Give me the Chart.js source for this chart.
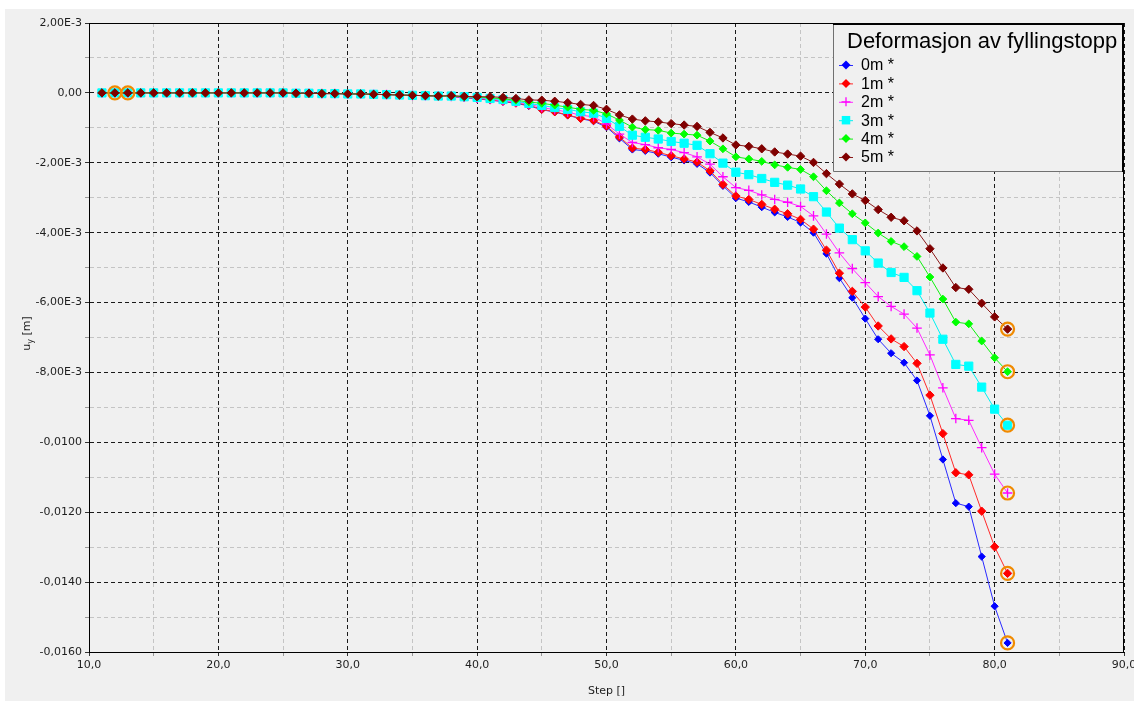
<!DOCTYPE html>
<html>
<head>
<meta charset="utf-8">
<title>Deformasjon av fyllingstopp</title>
<script src="https://cdn.jsdelivr.net/npm/chart.js@4.4.1/dist/chart.umd.min.js"></script>
<style>
  html, body { margin: 0; padding: 0; background: #ffffff; }
  #wrap { position: absolute; left: 5px; top: 9px; width: 1129px; height: 692px; background: #f0f0f0; }
  canvas { display: block; }
</style>
</head>
<body>
<div id="wrap"><canvas id="chart" width="1129" height="692"></canvas></div>
<script>
// Calculation steps (x axis)
const steps = [
  11, 12, 13, 14, 15, 16, 17, 18, 19, 20,
  21, 22, 23, 24, 25, 26, 27, 28, 29, 30,
  31, 32, 33, 34, 35, 36, 37, 38, 39, 40,
  41, 42, 43, 44, 45, 46, 47, 48, 49, 50,
  51, 52, 53, 54, 55, 56, 57, 58, 59, 60,
  61, 62, 63, 64, 65, 66, 67, 68, 69, 70,
  71, 72, 73, 74, 75, 76, 77, 78, 79, 80, 81
];

// Vertical displacement u_y [m] at each fill-top point
const u0m = [
  0, 0, 0, 0, 0, 0, 0, 0, 0, 0,
  0, 0, 0, 0, 0, -0.00001, -0.00001, -0.00002, -0.00002, -0.00003,
  -0.00003, -0.00004, -0.00005, -0.00006, -0.00007, -0.00008, -0.00009,
  -0.00011, -0.00014, -0.00017,
  -0.00021, -0.00025, -0.00030, -0.00037, -0.00048, -0.00055, -0.00064, -0.00074, -0.00081, -0.00098,
  -0.00130, -0.00162, -0.00166, -0.00174, -0.00184, -0.00193, -0.00203, -0.00228, -0.00266, -0.00301,
  -0.00312, -0.00327, -0.00342, -0.00355, -0.00371, -0.00400, -0.00460, -0.00530, -0.00586, -0.00646,
  -0.00705, -0.00745, -0.00772, -0.00823, -0.00924, -0.01049, -0.01174, -0.01184, -0.01327, -0.01469, -0.01574
];
const u1m = [
  0, 0, 0, 0, 0, 0, 0, 0, 0, 0,
  0, 0, 0, 0, 0, -0.00001, -0.00001, -0.00002, -0.00002, -0.00003,
  -0.00003, -0.00004, -0.00005, -0.00006, -0.00007, -0.00008, -0.00009,
  -0.00010, -0.00013, -0.00016,
  -0.00020, -0.00024, -0.00029, -0.00035, -0.00047, -0.00054, -0.00063, -0.00073, -0.00079, -0.00095,
  -0.00126, -0.00158, -0.00162, -0.00170, -0.00180, -0.00189, -0.00198, -0.00223, -0.00262, -0.00295,
  -0.00305, -0.00319, -0.00333, -0.00346, -0.00362, -0.00390, -0.00450, -0.00516, -0.00568, -0.00613,
  -0.00667, -0.00704, -0.00726, -0.00774, -0.00865, -0.00975, -0.01087, -0.01093, -0.01197, -0.01299, -0.01375
];
const u2m = [
  0, 0, 0, 0, 0, 0, 0, 0, 0, 0,
  0, 0, 0, 0, 0, -0.00001, -0.00001, -0.00002, -0.00002, -0.00003,
  -0.00003, -0.00004, -0.00005, -0.00006, -0.00007, -0.00008, -0.00009,
  -0.00010, -0.00012, -0.00015,
  -0.00018, -0.00022, -0.00026, -0.00032, -0.00042, -0.00048, -0.00055, -0.00064, -0.00068, -0.00089,
  -0.00118, -0.00142, -0.00148, -0.00157, -0.00162, -0.00171, -0.00183, -0.00204, -0.00240, -0.00271,
  -0.00279, -0.00292, -0.00305, -0.00313, -0.00325, -0.00352, -0.00404, -0.00458, -0.00503, -0.00543,
  -0.00583, -0.00611, -0.00633, -0.00673, -0.00750, -0.00844, -0.00932, -0.00937, -0.01015, -0.01091, -0.01145
];
const u3m = [
  0, 0, 0, 0, 0, 0, 0, 0, 0, 0,
  0, 0, 0, 0, 0, -0.00001, -0.00001, -0.00002, -0.00002, -0.00003,
  -0.00003, -0.00004, -0.00005, -0.00006, -0.00007, -0.00008, -0.00009,
  -0.00009, -0.00011, -0.00013,
  -0.00016, -0.00019, -0.00024, -0.00030, -0.00036, -0.00042, -0.00047, -0.00054, -0.00058, -0.00073,
  -0.00096, -0.00121, -0.00127, -0.00132, -0.00139, -0.00144, -0.00150, -0.00174, -0.00201, -0.00227,
  -0.00234, -0.00245, -0.00256, -0.00264, -0.00275, -0.00297, -0.00341, -0.00387, -0.00420, -0.00452,
  -0.00487, -0.00514, -0.00528, -0.00566, -0.00630, -0.00705, -0.00777, -0.00782, -0.00842, -0.00905, -0.00951
];
const u4m = [
  0, 0, 0, 0, 0, 0, 0, 0, 0, 0,
  0, 0, 0, 0, 0, -0.00001, -0.00001, -0.00002, -0.00002, -0.00003,
  -0.00003, -0.00004, -0.00005, -0.00006, -0.00007, -0.00008, -0.00009,
  -0.00009, -0.00011, -0.00012,
  -0.00014, -0.00017, -0.00021, -0.00026, -0.00030, -0.00035, -0.00041, -0.00047, -0.00050, -0.00060,
  -0.00078, -0.00098, -0.00105, -0.00107, -0.00115, -0.00118, -0.00121, -0.00138, -0.00160, -0.00183,
  -0.00189, -0.00196, -0.00206, -0.00213, -0.00219, -0.00240, -0.00280, -0.00315, -0.00346, -0.00372,
  -0.00401, -0.00425, -0.00440, -0.00468, -0.00527, -0.00590, -0.00656, -0.00661, -0.00710, -0.00758, -0.00798
];
const u5m = [
  0, 0, 0, 0, 0, 0, 0, 0, 0, 0,
  0, 0, 0, 0, 0, -0.00001, -0.00001, -0.00002, -0.00002, -0.00003,
  -0.00003, -0.00004, -0.00005, -0.00006, -0.00007, -0.00008, -0.00009,
  -0.00008, -0.00010, -0.00011,
  -0.00011, -0.00013, -0.00016, -0.00020, -0.00021, -0.00024, -0.00028, -0.00033, -0.00036, -0.00047,
  -0.00063, -0.00075, -0.00080, -0.00083, -0.00088, -0.00092, -0.00096, -0.00113, -0.00129, -0.00149,
  -0.00153, -0.00160, -0.00169, -0.00175, -0.00181, -0.00199, -0.00231, -0.00261, -0.00289, -0.00308,
  -0.00334, -0.00356, -0.00366, -0.00395, -0.00446, -0.00501, -0.00557, -0.00562, -0.00602, -0.00641, -0.00676
];

const seriesLabels = ['0m *', '1m *', '2m *', '3m *', '4m *', '5m *'];
const seriesValues = [u0m, u1m, u2m, u3m, u4m, u5m];

// Steps highlighted with a ring on the top curve
const markedSteps = [12, 13];

// Axis ticks and labels
const xMajorTicks = [10, 20, 30, 40, 50, 60, 70, 80, 90];
const xTickLabels = ['10,0', '20,0', '30,0', '40,0', '50,0', '60,0', '70,0', '80,0', '90,0'];
const xGridTicks = [10, 15, 20, 25, 30, 35, 40, 45, 50, 55, 60, 65, 70, 75, 80, 85, 90];
const yMajorTicks = [0.002, 0, -0.002, -0.004, -0.006, -0.008, -0.010, -0.012, -0.014, -0.016];
const yTickLabels = ['2,00E-3', '0,00', '-2,00E-3', '-4,00E-3', '-6,00E-3', '-8,00E-3', '-0,0100', '-0,0120', '-0,0140', '-0,0160'];
const yGridTicks = [0.002, 0.001, 0, -0.001, -0.002, -0.003, -0.004, -0.005, -0.006, -0.007, -0.008,
                    -0.009, -0.010, -0.011, -0.012, -0.013, -0.014, -0.015, -0.016];

// ---- styling ----
const styles = [
  { color: '#0000ff', point: 'rectRot', radius: 3.6, lineColor: '#2a2aff' },
  { color: '#ff0000', point: 'rectRot', radius: 4.2, lineColor: '#ff2a2a' },
  { color: '#ff00ff', point: 'cross',   radius: 4.8, lineColor: '#ff2aff' },
  { color: '#00ffff', point: 'rect',    radius: 5.8, lineColor: '#00f0f0' },
  { color: '#00ff00', point: 'rectRot', radius: 3.9, lineColor: '#10f010' },
  { color: '#800000', point: 'rectRot', radius: 4.2, lineColor: '#8a1a1a' }
];
const ringColor = '#f08a00';
const LEGEND_FONT = '"Liberation Sans", Arial, sans-serif';
const AXIS_FONT = '"DejaVu Sans", Verdana, sans-serif';
const TEXT = '#1e1e1e';

function isMajor(list, v) {
  return list.findIndex(t => Math.abs(t - v) < 1e-9);
}

const datasets = seriesValues.map((vals, i) => ({
  label: seriesLabels[i],
  data: steps.map((s, k) => ({ x: s, y: vals[k] })),
  borderColor: styles[i].lineColor,
  backgroundColor: styles[i].color,
  pointBackgroundColor: styles[i].color,
  pointBorderColor: styles[i].color,
  pointStyle: styles[i].point,
  pointRadius: styles[i].radius,
  pointBorderWidth: styles[i].point === 'cross' ? 1.3 : 1,
  borderWidth: 1,
  tension: 0,
  order: 6 - i
}));

// Rings: the highlighted start steps and the final step of every curve
const lastIdx = steps.length - 1;
const ringPoints = markedSteps.map(s => ({ x: s, y: u5m[steps.indexOf(s)] }))
  .concat(seriesValues.map(vals => ({ x: steps[lastIdx], y: vals[lastIdx] })));
datasets.push({
  label: 'selected',
  data: ringPoints,
  showLine: false,
  pointStyle: 'circle',
  pointRadius: 6.5,
  pointBorderWidth: 2.2,
  pointBorderColor: ringColor,
  pointBackgroundColor: 'rgba(0,0,0,0)',
  order: 0
});

function drawSymbol(ctx, style, x, y, r, color) {
  ctx.save();
  ctx.fillStyle = color;
  ctx.strokeStyle = color;
  ctx.lineWidth = 1.3;
  ctx.beginPath();
  if (style === 'rectRot') {
    ctx.moveTo(x, y - r); ctx.lineTo(x + r, y); ctx.lineTo(x, y + r); ctx.lineTo(x - r, y);
    ctx.closePath(); ctx.fill();
  } else if (style === 'rect') {
    const h = r * Math.SQRT1_2;
    ctx.rect(x - h, y - h, 2 * h, 2 * h); ctx.fill();
  } else if (style === 'cross') {
    ctx.moveTo(x - r, y); ctx.lineTo(x + r, y); ctx.moveTo(x, y - r); ctx.lineTo(x, y + r);
    ctx.stroke();
  }
  ctx.restore();
}

const overlay = {
  id: 'overlay',
  beforeDatasetsDraw(chart) {
    // closing frame on top and right of the plot area
    const { ctx, chartArea: a } = chart;
    ctx.save();
    ctx.strokeStyle = '#000';
    ctx.lineWidth = 1;
    ctx.beginPath();
    ctx.moveTo(Math.round(a.left) + 0.5, Math.round(a.top) + 0.5);
    ctx.lineTo(Math.round(a.right) - 0.5, Math.round(a.top) + 0.5);
    ctx.lineTo(Math.round(a.right) - 0.5, Math.round(a.bottom) + 0.5);
    ctx.stroke();
    ctx.restore();
  },
  afterDraw(chart) {
    const { ctx, chartArea: a } = chart;

    // axis titles
    ctx.save();
    ctx.fillStyle = TEXT;
    ctx.font = '11px ' + AXIS_FONT;
    ctx.textAlign = 'center';
    ctx.textBaseline = 'middle';
    ctx.fillText('Step []', (a.left + a.right) / 2, 682);
    ctx.restore();

    ctx.save();
    ctx.fillStyle = TEXT;
    ctx.translate(22, (a.top + a.bottom) / 2 - 4);
    ctx.rotate(-Math.PI / 2);
    ctx.textBaseline = 'middle';
    ctx.textAlign = 'left';
    const big = '11px ' + AXIS_FONT, small = '8px ' + AXIS_FONT;
    ctx.font = big; const wu = ctx.measureText('u').width; const wm = ctx.measureText(' [m]').width;
    ctx.font = small; const wy = ctx.measureText('y').width;
    let x0 = -(wu + wy + wm) / 2;
    ctx.font = big; ctx.fillText('u', x0, 0);
    ctx.font = small; ctx.fillText('y', x0 + wu, 4);
    ctx.font = big; ctx.fillText(' [m]', x0 + wu + wy, 0);
    ctx.restore();

    // legend box in the top right corner of the plot
    const bw = 291, bh = 149;
    const L = Math.round(a.right) - bw, T = Math.round(a.top);
    ctx.save();
    ctx.fillStyle = '#f0f0f0';
    ctx.fillRect(L, T, bw, bh);
    ctx.strokeStyle = '#707070';
    ctx.lineWidth = 1;
    ctx.beginPath();
    ctx.moveTo(L + 0.5, T); ctx.lineTo(L + 0.5, T + bh - 0.5); ctx.lineTo(L + bw, T + bh - 0.5);
    ctx.stroke();
    ctx.strokeStyle = '#000';
    ctx.lineWidth = 2;
    ctx.beginPath();
    ctx.moveTo(L, T + 1); ctx.lineTo(L + bw - 1, T + 1); ctx.lineTo(L + bw - 1, T + bh);
    ctx.stroke();

    ctx.fillStyle = '#000';
    ctx.font = '22px ' + LEGEND_FONT;
    ctx.textAlign = 'left';
    ctx.textBaseline = 'middle';
    ctx.fillText('Deformasjon av fyllingstopp', L + 14, T + 19);

    ctx.font = '16px ' + LEGEND_FONT;
    seriesLabels.forEach((lab, i) => {
      const cy = T + 42 + i * 18.4;
      const cx = L + 13;
      ctx.strokeStyle = styles[i].lineColor;
      ctx.lineWidth = 1;
      ctx.beginPath(); ctx.moveTo(cx - 7, cy + 0.5); ctx.lineTo(cx + 7, cy + 0.5); ctx.stroke();
      drawSymbol(ctx, styles[i].point, cx, cy, styles[i].point === 'rect' ? 6 : 4.5, styles[i].color);
      ctx.fillStyle = '#000';
      ctx.fillText(lab, L + 28, cy + 1);
    });
    ctx.restore();
  }
};

new Chart(document.getElementById('chart'), {
  type: 'line',
  data: { datasets },
  plugins: [overlay],
  options: {
    responsive: false,
    devicePixelRatio: 1,
    animation: false,
    events: [],
    layout: { padding: { top: 14, right: 10, left: 0, bottom: 0 } },
    plugins: { legend: { display: false }, tooltip: { enabled: false }, title: { display: false } },
    scales: {
      x: {
        type: 'linear',
        min: 10, max: 90,
        afterBuildTicks: s => { s.ticks = xGridTicks.map(v => ({ value: v })); },
        afterFit: s => { s.height = 49; s.paddingLeft = 0; s.paddingRight = 0; },
        ticks: {
          autoSkip: false, maxRotation: 0, padding: 3,
          color: TEXT, font: { family: AXIS_FONT, size: 11 },
          callback: v => { const k = isMajor(xMajorTicks, v); return k >= 0 ? xTickLabels[k] : ''; }
        },
        grid: {
          color: c => isMajor(xMajorTicks, c.tick.value) >= 0 ? '#1a1a1a' : '#c4c4c4',
          tickColor: c => isMajor(xMajorTicks, c.tick.value) >= 0 ? '#333' : '#999',
          tickLength: 4, lineWidth: 1
        },
        border: { display: true, color: '#000', width: 1, dash: [4, 3] }
      },
      y: {
        type: 'linear',
        min: -0.016, max: 0.002,
        afterBuildTicks: s => { s.ticks = yGridTicks.map(v => ({ value: v })); },
        afterFit: s => { s.width = 84; s.paddingTop = 0; s.paddingBottom = 0; },
        ticks: {
          autoSkip: false, padding: 3,
          color: TEXT, font: { family: AXIS_FONT, size: 11 },
          callback: v => { const k = isMajor(yMajorTicks, v); return k >= 0 ? yTickLabels[k] : ''; }
        },
        grid: {
          color: c => isMajor(yMajorTicks, c.tick.value) >= 0 ? '#1a1a1a' : '#c4c4c4',
          tickColor: c => isMajor(yMajorTicks, c.tick.value) >= 0 ? '#333' : '#999',
          tickLength: 4, lineWidth: 1
        },
        border: { display: true, color: '#000', width: 1, dash: [4, 3] }
      }
    }
  }
});
</script>
</body>
</html>
